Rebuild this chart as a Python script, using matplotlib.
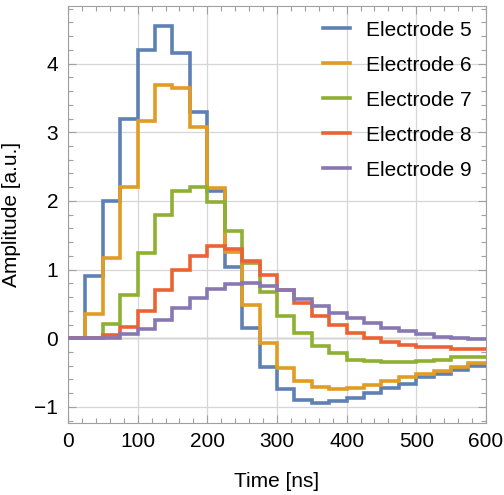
import numpy as np
import matplotlib
matplotlib.use("Agg")
import matplotlib.pyplot as plt
from matplotlib.ticker import MultipleLocator

plt.rcParams['font.family'] = ['Liberation Sans', 'DejaVu Sans']

# 25 ns bins from 0 to 600 ns
bin_width = 25
n_bins = 24

electrode_5 = [0.0, 0.91, 2.0, 3.2, 4.2, 4.55, 4.15, 3.3, 2.14, 1.04, 0.15, -0.42,
               -0.74, -0.90, -0.94, -0.91, -0.875, -0.79, -0.72, -0.66, -0.57, -0.52, -0.46, -0.40]
electrode_6 = [0.0, 0.35, 1.17, 2.2, 3.16, 3.69, 3.64, 3.07, 2.19, 1.25, 0.49, -0.07,
               -0.44, -0.62, -0.71, -0.74, -0.73, -0.68, -0.62, -0.57, -0.52, -0.47, -0.42, -0.36]
electrode_7 = [0.0, 0.0, 0.21, 0.63, 1.24, 1.80, 2.15, 2.21, 1.98, 1.56, 1.09, 0.68,
               0.33, 0.07, -0.11, -0.22, -0.31, -0.33, -0.35, -0.35, -0.33, -0.31, -0.28, -0.27]
electrode_8 = [0.0, 0.0, 0.05, 0.17, 0.39, 0.70, 1.0, 1.2, 1.34, 1.30, 1.13, 0.92,
               0.71, 0.51, 0.33, 0.20, 0.08, 0.0, -0.06, -0.10, -0.12, -0.13, -0.15, -0.15]
electrode_9 = [0.0, 0.0, 0.01, 0.06, 0.13, 0.27, 0.44, 0.58, 0.72, 0.79, 0.80, 0.76,
               0.70, 0.57, 0.47, 0.37, 0.29, 0.22, 0.15, 0.10, 0.06, 0.02, 0.0, -0.01]

labels = ["Electrode 5", "Electrode 6", "Electrode 7", "Electrode 8", "Electrode 9"]
colors = ["#5E81B5", "#E19C24", "#8FB032", "#EB6235", "#8778B3"]

edges = np.arange(n_bins + 1) * bin_width

fig = plt.figure(figsize=(5.04, 4.95), dpi=100)
ax = fig.add_axes([0.135, 0.146, 0.829, 0.842])

ax.axhline(0, color="#9a9a9a", lw=1.0, zorder=1)
for vals, lab, col in zip([electrode_5, electrode_6, electrode_7, electrode_8, electrode_9], labels, colors):
    ax.stairs(vals, edges, baseline=None, color=col, lw=2.6, label=lab, zorder=3)

ax.set_xlim(0, 600)
ax.set_ylim(-1.23, 4.84)

ax.xaxis.set_major_locator(MultipleLocator(100))
ax.xaxis.set_minor_locator(MultipleLocator(20))
ax.yaxis.set_major_locator(MultipleLocator(1))
ax.yaxis.set_minor_locator(MultipleLocator(0.2))
ax.grid(True, which="major", color="#d6d6d6", lw=0.9, zorder=0)

ax.tick_params(which="both", direction="in", top=True, right=True, color="#a0a0a0",
               labelsize=15, pad=7)
ax.tick_params(which="major", length=6, width=0.8)
ax.tick_params(which="minor", length=3.5, width=0.8)
for sp in ax.spines.values():
    sp.set_color("#a0a0a0")

ax.set_xlabel("Time [ns]", fontsize=15, labelpad=15)
ax.set_ylabel("Amplitude [a.u.]", fontsize=15, labelpad=10)

ax.legend(loc="upper right", frameon=False, fontsize=15, handlelength=1.3,
          handletextpad=0.75, labelspacing=0.77, borderaxespad=0.3, bbox_to_anchor=(1.0, 1.0))

fig.savefig("out.png", dpi=100)
